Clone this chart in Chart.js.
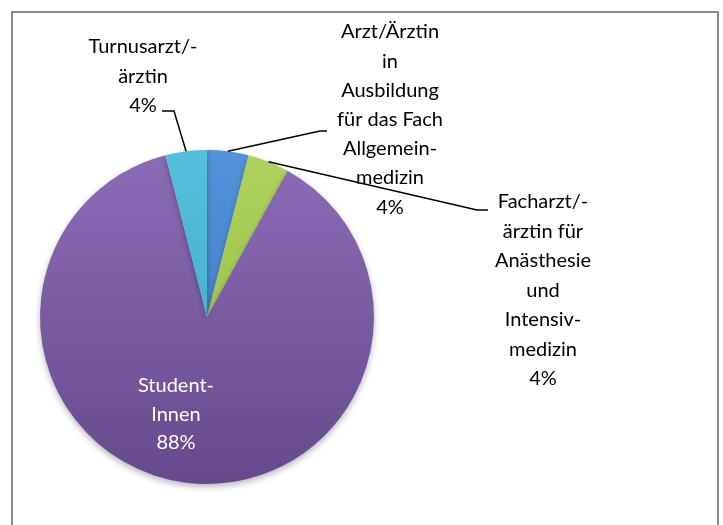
<!DOCTYPE html>
<html>
<head>
<meta charset="utf-8">
<script src="https://cdn.jsdelivr.net/npm/chart.js@4.4.1/dist/chart.umd.min.js"></script>
<style>
    body { margin: 0; background: #fff; }
    #wrap { position: relative; width: 723px; height: 525px; overflow: hidden; }
    #frame { position: absolute; left: 11px; top: 11px; width: 704px; height: 540px; border: 2px solid #8c8c8c; }
    canvas { position: absolute; left: 0; top: 0; }
</style>
</head>
<body>
<div id="wrap">
    <div id="frame"></div>
    <canvas id="pieChart" width="723" height="525"></canvas>
</div>
<script>
// slice data, clockwise from 12 o'clock
const categories = [
    "Arzt/Ärztin in Ausbildung für das Fach Allgemeinmedizin",
    "Facharzt/-ärztin für Anästhesie und Intensivmedizin",
    "StudentInnen",
    "Turnusarzt/-ärztin"
];
const shares = [4, 4, 88, 4];

// wrapped label text as shown in the chart
const labelLines = [
    ["Arzt/Ärztin", "in", "Ausbildung", "für das Fach", "Allgemein-", "medizin", "4%"],
    ["Facharzt/-", "ärztin für", "Anästhesie", "und", "Intensiv-", "medizin", "4%"],
    ["Student-", "Innen", "88%"],
    ["Turnusarzt/-", "ärztin", "4%"]
];

// [top, bottom] colours for each slice gradient
const sliceColors = [
    ["#5393db", "#3c75bb"],
    ["#afd35c", "#8fb842"],
    ["#8c6cb8", "#664a8c"],
    ["#55c0dc", "#3ea3bf"]
];

// label layout: text centre, first line y, line step, leader elbow + end (null = inside)
const labelLayout = [
    { x: 390, y: 32, step: 29.2, elbow: [320, 131], end: [327, 131], color: "#000" },
    { x: 543, y: 202, step: 29.5, elbow: [477, 210], end: [488, 210], color: "#000" },
    { x: 176, y: 386, step: 28.5, elbow: null, end: null, color: "#fff" },
    { x: 143, y: 47, step: 29.5, elbow: [174, 111], end: [162, 111], color: "#000" }
];

const shadowPlugin = {
    id: "pieShadow",
    beforeDatasetDraw(chart) {
        const ctx = chart.ctx;
        ctx.save();
        ctx.shadowColor = "rgba(0,0,0,0.28)";
        ctx.shadowBlur = 6;
        ctx.shadowOffsetY = 3;
    },
    afterDatasetDraw(chart) {
        chart.ctx.restore();
    }
};

const labelPlugin = {
    id: "sliceLabels",
    afterDatasetsDraw(chart) {
        const ctx = chart.ctx;
        const arcs = chart.getDatasetMeta(0).data;
        ctx.save();
        ctx.font = "20px Lato, 'Open Sans', sans-serif";
        ctx.textAlign = "center";
        ctx.textBaseline = "middle";
        arcs.forEach((arc, i) => {
            const lay = labelLayout[i];
            if (lay.elbow) {
                const mid = (arc.startAngle + arc.endAngle) / 2;
                const px = arc.x + Math.cos(mid) * arc.outerRadius;
                const py = arc.y + Math.sin(mid) * arc.outerRadius;
                ctx.beginPath();
                ctx.moveTo(px, py);
                ctx.lineTo(lay.elbow[0], lay.elbow[1]);
                ctx.lineTo(lay.end[0], lay.end[1]);
                ctx.strokeStyle = "#000";
                ctx.lineWidth = 1.5;
                ctx.stroke();
            }
            ctx.fillStyle = lay.color;
            labelLines[i].forEach((line, j) => {
                ctx.fillText(line, lay.x, lay.y + j * lay.step);
            });
        });
        ctx.restore();
    }
};

function sliceFill(context) {
    const chart = context.chart;
    const area = chart.chartArea;
    if (!area) return sliceColors[context.dataIndex][0];
    const c = sliceColors[context.dataIndex];
    const g = chart.ctx.createLinearGradient(0, area.top, 0, area.bottom);
    g.addColorStop(0, c[0]);
    g.addColorStop(1, c[1]);
    return g;
}

new Chart(document.getElementById("pieChart").getContext("2d"), {
    type: "pie",
    data: {
        labels: categories,
        datasets: [{
            data: shares,
            backgroundColor: sliceFill,
            borderWidth: 0
        }]
    },
    options: {
        responsive: false,
        animation: false,
        events: [],
        layout: { padding: { left: 40, right: 349, top: 150, bottom: 41 } },
        plugins: {
            legend: { display: false },
            tooltip: { enabled: false }
        }
    },
    plugins: [shadowPlugin, labelPlugin]
});
</script>
</body>
</html>
